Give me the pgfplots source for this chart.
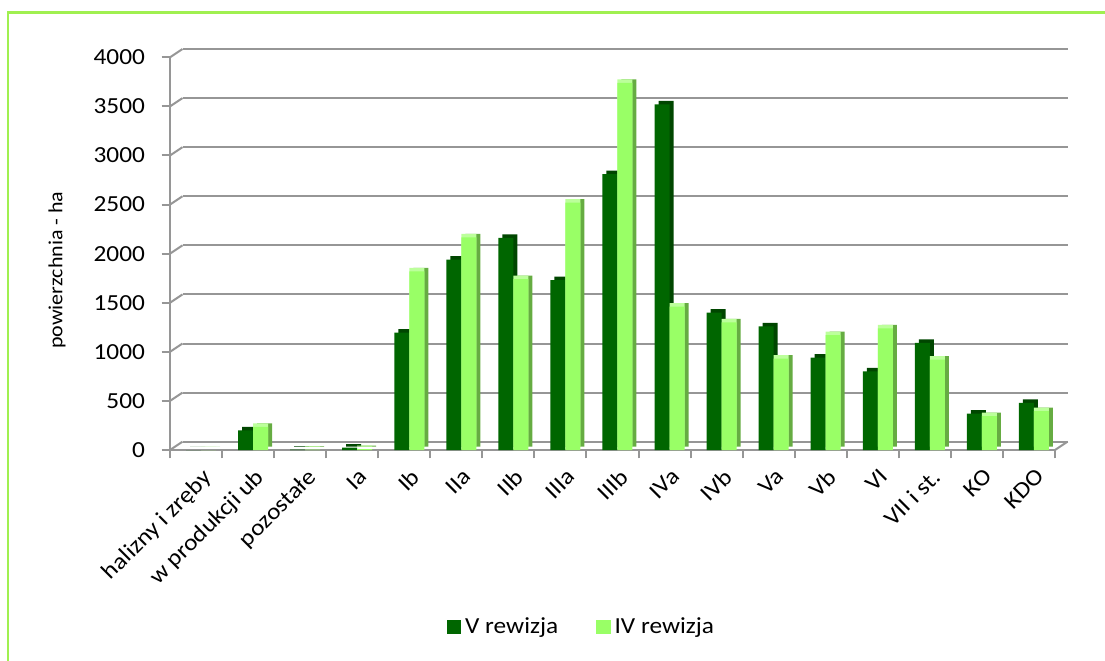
\documentclass[border=0pt]{standalone}
\usepackage{fontspec}
\setmainfont{Carlito}[FakeStretch=1.1]
\usepackage{pgfplots}
\usepackage{pgfplotstable}
\pgfplotsset{compat=1.18}

\definecolor{darkg}{RGB}{0,102,0}
\definecolor{darkgside}{RGB}{0,70,0}
\definecolor{lightg}{RGB}{153,255,102}
\definecolor{lightgside}{RGB}{102,172,66}
\definecolor{lightgtop}{RGB}{188,255,155}
\definecolor{gridg}{RGB}{150,150,150}
\definecolor{frameg}{RGB}{160,240,80}

% category, V rewizja, IV rewizja
\pgfplotstableread{
x v iv
0 0 0
1 200 235
2 5 5
3 25 10
4 1195 1820
5 1940 2165
6 2160 1740
7 1730 2520
8 2810 3740
9 3520 1460
10 1400 1300
11 1260 930
12 940 1170
13 800 1240
14 1090 920
15 370 345
16 480 395
}\data

\begin{document}
\begin{tikzpicture}[x=1pt,y=1pt]
\useasboundingbox (0,0) rectangle (552.5,330);
\draw[frameg, line width=1.3pt] (4,-2) -- (4,323.85) -- (556,323.85);

% back wall with the grid
\begin{axis}[
    at={(91.25pt,109.15pt)}, anchor=south west,
    scale only axis, width=442.5pt, height=196.35pt,
    xmin=-0.5, xmax=16.5, ymin=0, ymax=4000,
    ytick={0,500,...,4000}, yticklabels={}, xtick=\empty,
    major tick length=0pt,
    axis line style={draw=none},
    ymajorgrids, grid style={gridg, line width=1pt},
]
\addplot[draw=none] coordinates {(0,0)};
\end{axis}

\begin{axis}[
    at={(85pt,105pt)}, anchor=south west,
    scale only axis, width=442.5pt, height=196.35pt,
    xmin=-0.5, xmax=16.5, ymin=0, ymax=4000,
    clip=false,
    axis lines*=left,
    axis line style={gridg, line width=1pt},
    tick align=outside,
    tick style={gridg, line width=1pt},
    major tick length=4.2pt,
    ytick={0,500,...,4000},
    scaled y ticks=false,
    /pgf/number format/1000 sep={},
    /pgf/number format/assume math mode=true,
    tick label style={font=\fontsize{11.5}{13}\selectfont},
    yticklabel style={xshift=-4.8pt},
    xtick={-0.5,0.5,...,16.5}, xticklabels={},
    extra x ticks={0,...,16},
    extra x tick labels={halizny i zręby, w produkcji ub, pozostałe, Ia, Ib, IIa, IIb, IIIa, IIIb, IVa, IVb, Va, Vb, VI, VII i st., KO, KDO},
    extra x tick style={major tick length=0pt},
    xticklabel style={rotate=45, anchor=north east, inner sep=0pt, xshift=-4pt, yshift=-8pt},
    ylabel={powierzchnia - ha},
    ylabel style={at={(axis description cs:-0.1277,0.458)}, anchor=center, font=\fontsize{10}{12}\selectfont},
    ybar, bar width=7.5pt,
    legend image code/.code={\fill[#1] (0pt,-3.6pt) rectangle (7.2pt,3.6pt);},
    legend style={at={(0.466,-0.45)}, anchor=center, draw=none, fill=none,
        legend columns=-1, font=\fontsize{11.5}{13}\selectfont,
        /tikz/every even column/.append style={column sep=17pt}},
]
\pgfplotsinvokeforeach{0,500,...,4000}{
  \draw[gridg, line width=1pt] (axis cs:-0.5,#1) -- ++(6.25pt,4.15pt);
}
\draw[gridg, line width=1pt] (axis cs:16.5,0) -- ++(6.25pt,4.15pt);

% side and top faces
\addplot[forget plot, draw=none, fill=darkgside, bar shift=0.75pt, yshift=1.75pt] table[x=x,y=v]{\data};
\addplot[forget plot, draw=none, fill=lightgside, bar shift=8.25pt, yshift=1.75pt] table[x=x,y=iv]{\data};
% front faces
\addplot[draw=none, fill=darkg, bar shift=-1.25pt] table[x=x,y=v]{\data};
\addplot[forget plot, draw=none, fill=lightgtop, bar shift=6.25pt, yshift=1.75pt] table[x=x,y=iv]{\data};
\addplot[draw=none, fill=lightg, bar shift=6.25pt] table[x=x,y=iv]{\data};
\legend{V rewizja, IV rewizja}
\end{axis}
\end{tikzpicture}
\end{document}
